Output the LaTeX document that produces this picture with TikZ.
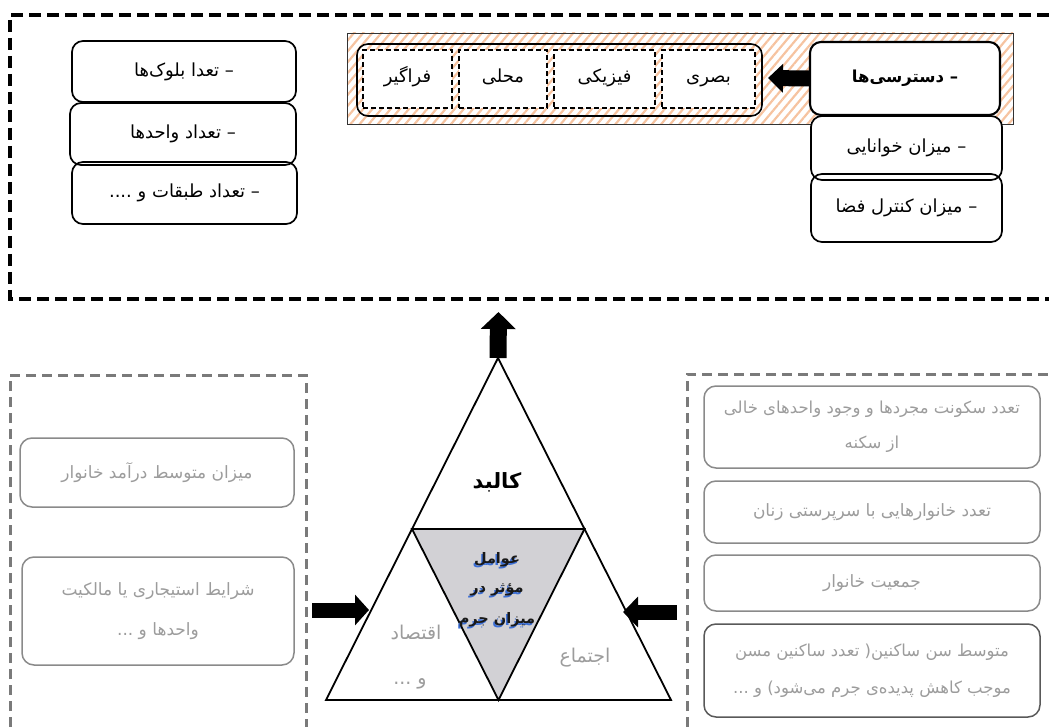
\documentclass[tikz,border=0pt]{standalone}
\usepackage{fontspec}
\TeXXeTstate=1
\newfontfamily\fa[Script=Arabic]{DejaVu Sans}
\usetikzlibrary{patterns.meta,arrows.meta}
\newcommand{\myR}[1]{\beginR #1\endR}
\definecolor{hatch}{HTML}{F6C3A0}
\definecolor{boxgray}{HTML}{8A8A8A}
\definecolor{dashgray}{HTML}{7A7A7A}
\definecolor{txtgray}{HTML}{9C9C9C}
\definecolor{trigray}{HTML}{D2D1D5}
\definecolor{shblue}{HTML}{3C6FD6}
\tikzset{
  topbox/.style={draw, line width=1.7pt, rounded corners=11pt, inner sep=0pt, font=\fa\fontsize{18}{22}\selectfont},
  dbox/.style={draw, line width=1.6pt, dash pattern=on 5pt off 3pt, fill=white, inner sep=0pt, text height=13pt, text depth=5pt, font=\fa\fontsize{18}{22}\selectfont},
  gbox/.style={draw=boxgray, line width=1.5pt, rounded corners=12pt, inner sep=0pt, text=txtgray, align=center, font=\fa\fontsize{17}{36}\selectfont},
  trilabel/.style={font=\fa\bfseries\fontsize{14.5}{20}\selectfont, inner sep=0pt},
  sidelabel/.style={font=\fa\fontsize{19}{22}\selectfont, text=txtgray, inner sep=0pt}
}
\begin{document}
\begin{tikzpicture}[x=1pt,y=-1pt]
\useasboundingbox (0,0) rectangle (1049,727);
% top dashed frame
\draw[line width=3.5pt, dash pattern=on 12pt off 6pt] (1049,15) -- (10,15) -- (10,299) -- (1049,299);
% hatched band
\node[draw=black!80, line width=0.8pt, pattern={Lines[angle=50,distance=7pt,line width=2.2pt]}, pattern color=hatch, minimum width=666pt, minimum height=91pt, inner sep=0pt] (band) at (680,78.5) {};
\node[draw, line width=1.6pt, rounded corners=11pt, minimum width=405pt, minimum height=72pt, inner sep=0pt] (grp) at (559.5,80) {};
\node[dbox, minimum width=89pt, minimum height=58pt] (fr) at (407.5,79) {\myR{فراگیر}};
\node[dbox, minimum width=88pt, minimum height=58pt] (ma) at (503,79) {\myR{محلی}};
\node[dbox, minimum width=101pt, minimum height=58pt] (fi) at (604.5,79) {\myR{فیزیکی}};
\node[dbox, minimum width=93pt, minimum height=58pt] (ba) at (708.5,79) {\myR{بصری}};
% right stack
\node[topbox, fill=white, minimum width=191pt, minimum height=64pt] (kh) at (906.5,148) {\myR{– میزان خوانایی}};
\node[topbox, minimum width=191pt, minimum height=68pt] (ko) at (906.5,208) {\myR{– میزان کنترل فضا}};
\node[topbox, fill=white, line width=2.1pt, minimum width=190pt, minimum height=73pt, font=\fa\bfseries\fontsize{16.5}{20}\selectfont] (ds) at (905,78.5) {\myR{– دسترسی^^^^200cها}};
% left stack
\node[topbox, minimum width=224pt, minimum height=61pt] (bl) at (184,71.5) {\myR{– تعدا بلوک^^^^200cها}};
\node[topbox, minimum width=226pt, minimum height=62pt] (va) at (183,134) {\myR{– تعداد واحدها}};
\node[topbox, minimum width=225pt, minimum height=62pt] (ta) at (184.5,193) {\myR{– تعداد طبقات و ....}};
% arrow from access to group
\coordinate (a1s) at (ds.west);
\coordinate (a1e) at (768,78);
\draw[line width=16pt, -{Triangle[length=15pt,width=28pt]}] (a1s) -- (a1e);
% triangle
\coordinate (A) at (498,358);
\coordinate (B) at (326,700);
\coordinate (C) at (671,700);
\coordinate (L) at (412,529);
\coordinate (R) at (584.5,529);
\coordinate (M) at (498.5,700);
\draw[line width=1.8pt, line join=miter] (A) -- (B) -- (C) -- cycle;
\draw[line width=1.8pt, fill=trigray, line join=miter] (L) -- (R) -- (M) -- cycle;
\node[font=\fa\bfseries\fontsize{21}{24}\selectfont, inner sep=0pt] (kal) at (497,482) {\myR{کالبد}};
\foreach \t/\yy/\nm in {عوامل/560/w1, مؤثر در/590/w2, میزان جرم/620/w3}{
  \node[trilabel, text=shblue] at (495.5,\yy+2) {\myR{\t}};
  \node[trilabel, text=black!90] (\nm) at (497,\yy) {\myR{\t}};
}
\node[sidelabel] (eq) at (416,632) {\myR{اقتصاد}};
\node[sidelabel] (eq2) at (410,684) {\myR{و ...}};
\node[sidelabel] (ej) at (585,658) {\myR{اجتماع}};
% up arrow
\coordinate (upe) at (498.5,312);
\draw[line width=17pt, -{Triangle[length=17pt,width=34pt]}] (A) -- (upe);
% bottom-left frame
\draw[draw=dashgray, line width=3pt, dash pattern=on 10pt off 6pt] (10,727) -- (10,375) -- (306,375) -- (306,727);
\node[gbox, minimum width=274pt, minimum height=69pt] (dar) at (157,472.5) {\myR{میزان متوسط درآمد خانوار}};
\node[gbox, font=\fa\fontsize{17}{40}\selectfont, minimum width=272pt, minimum height=108pt] (sh) at (158,611) {\myR{شرایط استیجاری یا مالکیت}\\\myR{واحدها و ...}};
% bottom-right frame
\draw[draw=dashgray, line width=3pt, dash pattern=on 10pt off 6pt] (687,727) -- (687,374) -- (1049,374);
\node[gbox, font=\fa\fontsize{16.5}{35}\selectfont, minimum width=336pt, minimum height=82pt] (r1) at (872,427) {\myR{تعدد سکونت مجردها و وجود واحدهای خالی}\\\myR{از سکنه}};
\node[gbox, minimum width=336pt, minimum height=62pt] (r2) at (872,512) {\myR{تعدد خانوارهایی با سرپرستی زنان}};
\node[gbox, minimum width=336pt, minimum height=56pt] (r3) at (872,583) {\myR{جمعیت خانوار}};
\node[gbox, draw=black!65, font=\fa\fontsize{16.5}{37}\selectfont, minimum width=336pt, minimum height=93pt] (r4) at (872,670.5) {\myR{متوسط سن ساکنین( تعدد ساکنین مسن}\\\myR{موجب کاهش پدیده^^^^200cی جرم می^^^^200cشود) و ...}};
% side arrows
\coordinate (lbs) at (312,610);
\coordinate (lbe) at (369,610);
\draw[line width=15pt, -{Triangle[length=14pt,width=30pt]}] (lbs) -- (lbe);
\coordinate (rbs) at (677,612);
\coordinate (rbe) at (623,612);
\draw[line width=15pt, -{Triangle[length=15pt,width=30pt]}] (rbs) -- (rbe);
\end{tikzpicture}
\end{document}
